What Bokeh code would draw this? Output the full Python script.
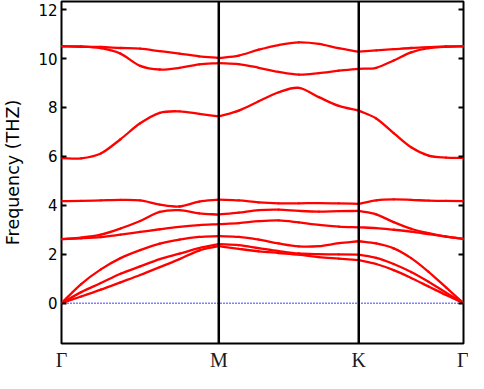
from bokeh.plotting import figure
from bokeh.models import Range1d, FixedTicker, LinearAxis, Span
from bokeh.embed import file_html
from bokeh.resources import INLINE

# high-symmetry points
kpoint_labels = ["Γ", "M", "K", "Γ"]
kpoint_pos = [0.0, 1.0, 1.89, 2.556]
# index of each high-symmetry point in the sampled path
kpoint_idx = [0, 8, 15, 21]

# path coordinate of sampled points
kdist = [0.0, 0.125, 0.25, 0.375, 0.5, 0.625, 0.75, 0.875, 1.0,
         1.127, 1.254, 1.381, 1.509, 1.636, 1.763, 1.89,
         2.001, 2.112, 2.223, 2.334, 2.445, 2.556]

# phonon branches (THz)
band1 = [0.0, 0.27, 0.55, 0.85, 1.15, 1.47, 1.80, 2.15, 2.33,
         2.22, 2.12, 2.05, 1.98, 1.88, 1.82, 1.76,
         1.60, 1.35, 1.03, 0.68, 0.33, 0.0]
band2 = [0.0, 0.45, 0.82, 1.20, 1.50, 1.80, 2.02, 2.25, 2.41,
         2.37, 2.25, 2.13, 2.03, 2.00, 1.99, 1.98,
         1.85, 1.60, 1.27, 0.87, 0.43, 0.0]
band3 = [0.0, 0.78, 1.38, 1.84, 2.17, 2.43, 2.60, 2.71, 2.74,
         2.71, 2.60, 2.44, 2.32, 2.33, 2.45, 2.53,
         2.44, 2.24, 1.84, 1.28, 0.64, 0.0]
band4 = [2.62, 2.65, 2.70, 2.80, 2.91, 3.02, 3.12, 3.19, 3.23,
         3.27, 3.35, 3.38, 3.30, 3.20, 3.13, 3.10,
         3.07, 3.00, 2.92, 2.82, 2.72, 2.63]
band5 = [2.62, 2.68, 2.80, 3.05, 3.36, 3.73, 3.80, 3.67, 3.62,
         3.70, 3.80, 3.82, 3.77, 3.74, 3.76, 3.77,
         3.63, 3.31, 3.04, 2.86, 2.72, 2.63]
band6 = [4.17, 4.18, 4.20, 4.22, 4.20, 4.03, 3.95, 4.15, 4.23,
         4.20, 4.12, 4.08, 4.08, 4.09, 4.08, 4.06,
         4.20, 4.24, 4.22, 4.19, 4.18, 4.17]
band7 = [5.93, 5.92, 6.12, 6.70, 7.35, 7.78, 7.84, 7.74, 7.63,
         7.87, 8.25, 8.62, 8.80, 8.42, 8.06, 7.87,
         7.55, 6.95, 6.37, 6.03, 5.95, 5.94]
band8 = [10.50, 10.49, 10.42, 10.20, 9.70, 9.55, 9.62, 9.76, 9.81,
         9.77, 9.62, 9.45, 9.34, 9.40, 9.50, 9.58,
         9.62, 9.92, 10.25, 10.42, 10.48, 10.50]
band9 = [10.50, 10.48, 10.47, 10.43, 10.40, 10.30, 10.20, 10.09, 10.02,
         10.12, 10.36, 10.55, 10.66, 10.60, 10.42, 10.28,
         10.33, 10.38, 10.43, 10.46, 10.49, 10.50]
bands = [band1, band2, band3, band4, band5, band6, band7, band8, band9]

y_ticks = [0, 2, 4, 6, 8, 10, 12]
y_min, y_max = -1.65, 12.33

p = figure(width=468, height=373, output_backend="svg", toolbar_location=None,
           x_range=Range1d(kpoint_pos[0], kpoint_pos[-1]),
           y_range=Range1d(y_min, y_max),
           min_border_left=56, min_border_right=5, min_border_top=1,
           min_border_bottom=18)
p.background_fill_color = "white"
p.border_fill_color = "white"
p.grid.visible = False
p.outline_line_color = "black"
p.outline_line_width = 2
p.outline_line_alpha = 1.0

zero = Span(location=0, dimension="width", line_color="#0000ff",
            line_width=1.5, line_dash="1 2", level="underlay")
p.add_layout(zero)


def smooth_segments(xs, ys, start, end):
    """Cubic (Catmull-Rom style) pieces through the read points of one path segment."""
    n = end - start
    tx, ty = [], []
    for i in range(start, end + 1):
        if i == start:
            mx, my = xs[i + 1] - xs[i], ys[i + 1] - ys[i]
        elif i == end:
            mx, my = xs[i] - xs[i - 1], ys[i] - ys[i - 1]
        else:
            mx, my = (xs[i + 1] - xs[i - 1]) / 2, (ys[i + 1] - ys[i - 1]) / 2
        tx.append(mx)
        ty.append(my)
    out = dict(x0=[], y0=[], x1=[], y1=[], cx0=[], cy0=[], cx1=[], cy1=[])
    for j in range(n):
        i = start + j
        out["x0"].append(xs[i]); out["y0"].append(ys[i])
        out["x1"].append(xs[i + 1]); out["y1"].append(ys[i + 1])
        out["cx0"].append(xs[i] + tx[j] / 3); out["cy0"].append(ys[i] + ty[j] / 3)
        out["cx1"].append(xs[i + 1] - tx[j + 1] / 3); out["cy1"].append(ys[i + 1] - ty[j + 1] / 3)
    return out


for b in bands:
    for s, e in zip(kpoint_idx[:-1], kpoint_idx[1:]):
        seg = smooth_segments(kdist, b, s, e)
        p.bezier(x0="x0", y0="y0", x1="x1", y1="y1", cx0="cx0", cy0="cy0",
                 cx1="cx1", cy1="cy1", source=seg,
                 line_color="#ff0000", line_width=2.3, line_cap="round")

for k in kpoint_pos[1:-1]:
    p.add_layout(Span(location=k, dimension="height", line_color="black",
                      line_width=2.5))

# x axis
xa = p.xaxis[0]
xa.ticker = FixedTicker(ticks=kpoint_pos)
xa.major_label_overrides = {k: l for k, l in zip(kpoint_pos, kpoint_labels)}
xa.major_tick_in = 0
xa.major_tick_out = 0
xa.minor_tick_line_color = None
xa.axis_line_color = None
xa.major_label_standoff = 5
xa.major_label_text_font = "Liberation Serif"
xa.major_label_text_font_size = "20px"
xa.major_label_text_color = "#1a1a1a"

# y axis
ya = p.yaxis[0]
ya.ticker = FixedTicker(ticks=y_ticks)
ya.major_tick_in = 5
ya.major_tick_out = 0
ya.major_tick_line_width = 2
ya.minor_tick_line_color = None
ya.axis_line_color = None
ya.major_label_standoff = 4
ya.major_label_text_font = "DejaVu Sans"
ya.major_label_text_font_size = "15px"
ya.major_label_text_color = "black"
ya.axis_label = "Frequency (THZ)"
ya.axis_label_text_font = "DejaVu Sans"
ya.axis_label_text_font_size = "17.5px"
ya.axis_label_text_font_style = "normal"
ya.axis_label_text_color = "black"
ya.axis_label_standoff = 12

ra = LinearAxis(ticker=FixedTicker(ticks=y_ticks))
ra.major_tick_in = 5
ra.major_tick_out = 0
ra.major_tick_line_width = 2
ra.minor_tick_line_color = None
ra.axis_line_color = None
ra.major_label_standoff = 0
ra.major_label_overrides = {t: "" for t in y_ticks}
p.add_layout(ra, "right")

open("out.html", "w").write(file_html(p, INLINE))
